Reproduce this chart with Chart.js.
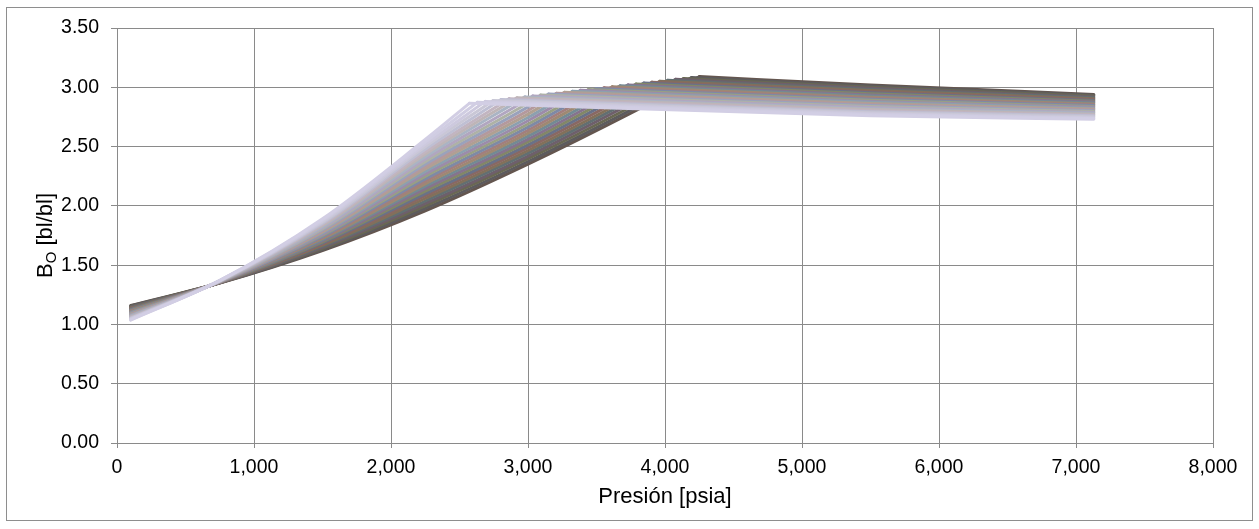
<!DOCTYPE html>
<html>
<head>
<meta charset="utf-8">
<script src="https://cdn.jsdelivr.net/npm/chart.js@4.4.1/dist/chart.umd.min.js"></script>
<style>
html,body{margin:0;padding:0;background:#ffffff;}
#wrap{width:1259px;height:529px;position:relative;}
</style>
</head>
<body>
<div id="wrap"><canvas id="c" width="1259" height="529"></canvas></div>
<script>
// ---- data (one entry per curve, dark -> light) ----
const X_TICKS_MAX = 8000;
const Y_TICKS_MAX = 3.5;

// bubble point pressure [psia] and Bo at bubble point [bl/bl]
const CURVE_PB = [4252, 4194, 4136, 4078, 4020, 3962, 3904, 3846, 3789, 3731,
                  3673, 3615, 3557, 3499, 3441, 3383, 3325, 3267, 3209, 3151,
                  3093, 3035, 2978, 2920, 2862, 2804, 2746, 2688, 2630, 2572];
const CURVE_BOB = [3.090, 3.082, 3.074, 3.067, 3.059, 3.051, 3.043, 3.036, 3.028, 3.020,
                   3.012, 3.005, 2.997, 2.989, 2.981, 2.974, 2.966, 2.958, 2.950, 2.943,
                   2.935, 2.927, 2.919, 2.912, 2.904, 2.896, 2.888, 2.881, 2.873, 2.865];

// saturated branch: Bo at these pressures (only those below the curve's bubble point)
const SAT_P = [100, 750, 1500, 2250, 3000, 3750];
const SAT_BO = [
  [1.159, 1.349, 1.623, 1.958, 2.352, 2.782],
  [1.155, 1.350, 1.632, 1.979, 2.374, 2.808],
  [1.151, 1.351, 1.641, 2.000, 2.398, 2.834],
  [1.146, 1.351, 1.651, 2.020, 2.420, 2.862],
  [1.142, 1.352, 1.660, 2.041, 2.444, 2.889],
  [1.138, 1.353, 1.669, 2.062, 2.467, 2.916],
  [1.134, 1.354, 1.678, 2.083, 2.491, 2.944],
  [1.129, 1.354, 1.688, 2.103, 2.515, 2.974],
  [1.125, 1.355, 1.697, 2.124, 2.539, 3.003],
  [1.121, 1.356, 1.706, 2.145, 2.563],
  [1.117, 1.357, 1.715, 2.166, 2.588],
  [1.112, 1.357, 1.725, 2.186, 2.613],
  [1.108, 1.358, 1.734, 2.207, 2.638],
  [1.104, 1.359, 1.743, 2.228, 2.664],
  [1.100, 1.360, 1.752, 2.249, 2.690],
  [1.095, 1.360, 1.762, 2.269, 2.718],
  [1.091, 1.361, 1.771, 2.290, 2.745],
  [1.087, 1.362, 1.780, 2.311, 2.774],
  [1.083, 1.363, 1.789, 2.332, 2.803],
  [1.078, 1.363, 1.799, 2.352, 2.835],
  [1.074, 1.364, 1.808, 2.373, 2.867],
  [1.070, 1.365, 1.817, 2.394, 2.901],
  [1.066, 1.366, 1.826, 2.415],
  [1.061, 1.366, 1.836, 2.435],
  [1.057, 1.367, 1.845, 2.456],
  [1.053, 1.368, 1.854, 2.477],
  [1.049, 1.369, 1.863, 2.498],
  [1.044, 1.369, 1.873, 2.518],
  [1.040, 1.370, 1.882, 2.539],
  [1.036, 1.371, 1.891, 2.560]
];

// undersaturated branch: Bo at 5500 psia and at the last pressure 7130 psia
const UNDER_P = [5500, 7130];
const UNDER_BO_MID = [3.020, 3.010, 3.001, 2.991, 2.982, 2.972, 2.963, 2.954, 2.945, 2.935,
                      2.926, 2.917, 2.908, 2.899, 2.891, 2.881, 2.873, 2.864, 2.855, 2.846,
                      2.838, 2.829, 2.820, 2.812, 2.803, 2.794, 2.786, 2.777, 2.769, 2.760];
const UNDER_BO_END = [2.940, 2.933, 2.926, 2.918, 2.911, 2.904, 2.897, 2.889, 2.882, 2.875,
                      2.868, 2.860, 2.853, 2.846, 2.839, 2.831, 2.824, 2.817, 2.810, 2.802,
                      2.795, 2.788, 2.781, 2.773, 2.766, 2.759, 2.752, 2.744, 2.737, 2.730];

// ---- styling ----
const FONT = "'Liberation Sans', Arial, Helvetica, sans-serif";
const GRID = '#8a8a8a';
const HUES = [[34,-14,-22],[-30,-4,36],[6,26,-28],[6,-14,28],[-30,16,30],[32,8,-32]];
const LAVENDER = [210, 206, 228];
function curveColor(i, n) {
  const t = i / (n - 1);
  const L = 88 + 120 * t;
  const amp = Math.min(0.8, 3 * t * Math.pow(1 - t, 1.5)) + 0.12 * (1 - t);
  const h = HUES[i % HUES.length];
  const tint = [8 * (1 - t) - 3 * t, -5 * t, -6 * (1 - t) + 12 * t];
  let c = [0,1,2].map(k => L + amp * h[k] + tint[k]);
  // last curves blend towards the lavender tone of the lightest series
  const w = Math.max(0, (t - 0.82) / 0.18);
  c = c.map((v, k) => v * (1 - w) + LAVENDER[k] * w);
  c = c.map(v => Math.max(0, Math.min(255, Math.round(v))));
  return 'rgb(' + c.join(',') + ')';
}

const N = CURVE_PB.length;
const datasets = [];
for (let i = 0; i < N; i++) {
  const col = curveColor(i, N);
  const sat = SAT_BO[i].map((b, k) => ({x: SAT_P[k], y: b}));
  sat.push({x: CURVE_PB[i], y: CURVE_BOB[i]});
  const under = [
    {x: CURVE_PB[i], y: CURVE_BOB[i]},
    {x: UNDER_P[0], y: UNDER_BO_MID[i]},
    {x: UNDER_P[1], y: UNDER_BO_END[i]}
  ];
  const common = {
    showLine: true, pointRadius: 0, pointHoverRadius: 0, borderWidth: 3,
    borderColor: col, backgroundColor: col, cubicInterpolationMode: 'monotone',
    borderCapStyle: 'round', borderJoinStyle: 'round', fill: false,
    order: N - 1 - i
  };
  datasets.push(Object.assign({label: 'sat' + i, data: sat}, common));
  datasets.push(Object.assign({label: 'und' + i, data: under}, common));
}

const outerBorder = {
  id: 'outerBorder',
  beforeDraw(chart) {
    const c = chart.ctx;
    c.save();
    c.fillStyle = '#ffffff';
    c.fillRect(0, 0, chart.width, chart.height);
    c.strokeStyle = '#8e8e8e';
    c.lineWidth = 1;
    c.strokeRect(6.5, 7.5, 1246, 513);
    c.restore();
  }
};

const yTitle = {
  id: 'yTitle',
  afterDraw(chart) {
    const c = chart.ctx;
    const area = chart.chartArea;
    c.save();
    c.translate(51.5, (area.top + area.bottom) / 2);
    c.rotate(-Math.PI / 2);
    c.fillStyle = '#000';
    c.textBaseline = 'alphabetic';
    c.textAlign = 'left';
    const mainF = '22px ' + FONT, subF = '15px ' + FONT;
    c.font = mainF; const wB = c.measureText('B').width; const wR = c.measureText(' [bl/bl]').width;
    c.font = subF; const wO = c.measureText('O').width;
    const x0 = -(wB + wO + wR) / 2;
    c.font = mainF; c.fillText('B', x0, 0);
    c.font = subF; c.fillText('O', x0 + wB, 4);
    c.font = mainF; c.fillText(' [bl/bl]', x0 + wB + wO, 0);
    c.restore();
  }
};

new Chart(document.getElementById('c').getContext('2d'), {
  type: 'scatter',
  data: {datasets},
  options: {
    responsive: false,
    animation: false,
    devicePixelRatio: 1,
    layout: {padding: {top: 28, right: 46, left: 0, bottom: 0}},
    plugins: {legend: {display: false}, tooltip: {enabled: false}},
    scales: {
      x: {
        type: 'linear', min: 0, max: X_TICKS_MAX,
        ticks: {stepSize: 1000, color: '#000', padding: 8, font: {family: FONT, size: 19.5},
                callback: v => v.toLocaleString('en-US')},
        grid: {color: GRID, tickLength: 5, lineWidth: 1},
        border: {color: GRID, width: 1},
        title: {display: true, text: 'Presión [psia]', color: '#000',
                font: {family: FONT, size: 22}, padding: {top: 0, bottom: 19}},
        afterFit: s => { s.height = 86; }
      },
      y: {
        type: 'linear', min: 0, max: Y_TICKS_MAX,
        ticks: {stepSize: 0.5, color: '#000', padding: 12, font: {family: FONT, size: 19.5},
                callback: v => Number(v).toFixed(2)},
        grid: {color: GRID, tickLength: 6, lineWidth: 1},
        border: {color: GRID, width: 1},
        afterFit: s => { s.width = 117; }
      }
    }
  },
  plugins: [outerBorder, yTitle]
});
</script>
</body>
</html>
